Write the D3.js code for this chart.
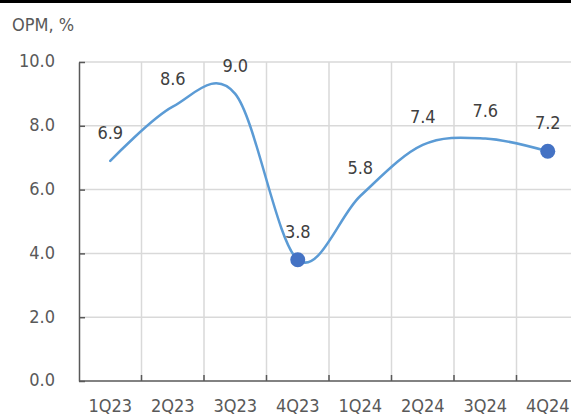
<!DOCTYPE html>
<html>
<head>
<meta charset="utf-8">
<script src="https://cdn.jsdelivr.net/npm/d3@7"></script>
<style>
  html, body { margin: 0; padding: 0; background: #fff; overflow: hidden; }
  text { font-family: "DejaVu Sans Condensed", "DejaVu Sans", sans-serif; font-stretch: condensed; }
</style>
</head>
<body>
<div id="chart"></div>
<script>
var quarters = ['1Q23', '2Q23', '3Q23', '4Q23', '1Q24', '2Q24', '3Q24', '4Q24'];
var opm = [6.9, 8.6, 9.0, 3.8, 5.8, 7.4, 7.6, 7.2];
var markedQuarters = ['4Q23', '4Q24'];
var yTicks = [0, 2, 4, 6, 8, 10];

var W = 571, H = 415;
var margin = { top: 62, left: 79 };
var plotRight = 579, plotBottom = 381;
var fontSize = '18px';

var svg = d3.select('#chart').append('svg').attr('width', W).attr('height', H);

// black rule along the top
svg.append('rect').attr('x', 0).attr('y', 0).attr('width', W).attr('height', 3).attr('fill', '#000');

var x = d3.scaleBand().domain(quarters).range([margin.left, plotRight]).padding(0);
var y = d3.scaleLinear().domain([0, 10]).range([plotBottom, margin.top]);

// gridlines
svg.append('g').selectAll('line.h').data(yTicks.slice(1)).enter().append('line')
  .attr('x1', margin.left).attr('x2', plotRight)
  .attr('y1', function (d) { return y(d); }).attr('y2', function (d) { return y(d); })
  .attr('stroke', '#d9d9d9').attr('stroke-width', 1.5);
svg.append('g').selectAll('line.v').data(quarters.slice(1)).enter().append('line')
  .attr('x1', function (d) { return x(d); }).attr('x2', function (d) { return x(d); })
  .attr('y1', margin.top).attr('y2', plotBottom)
  .attr('stroke', '#d9d9d9').attr('stroke-width', 1.5);

// y axis
var yAxis = d3.axisLeft(y).tickValues(yTicks).tickFormat(d3.format('.1f')).tickSizeInner(-6).tickSizeOuter(0).tickPadding(24);
var gy = svg.append('g').attr('transform', 'translate(' + margin.left + ',0)').call(yAxis);
gy.attr('font-family', null).attr('font-size', null);
gy.select('.domain').attr('stroke', '#595959').attr('stroke-width', 1.5);
gy.selectAll('.tick line').attr('stroke', '#595959').attr('stroke-width', 1.5);
gy.selectAll('.tick text').attr('fill', '#595959').attr('dy', '0.27em').style('font-size', fontSize);

// x axis, ticks at band boundaries
var gx = svg.append('g').attr('transform', 'translate(0,' + plotBottom + ')');
gx.append('line').attr('x1', margin.left).attr('x2', plotRight).attr('stroke', '#595959').attr('stroke-width', 1.5);
gx.selectAll('line.t').data(quarters.slice(1)).enter().append('line')
  .attr('x1', function (d) { return x(d); }).attr('x2', function (d) { return x(d); })
  .attr('y1', 0).attr('y2', -6).attr('stroke', '#595959').attr('stroke-width', 1.5);
gx.selectAll('text').data(quarters).enter().append('text')
  .attr('x', function (d) { return x(d) + x.bandwidth() / 2; }).attr('y', 31)
  .attr('text-anchor', 'middle').attr('fill', '#595959').style('font-size', fontSize)
  .text(function (d) { return d; });

// axis title
svg.append('text').attr('x', 12).attr('y', 30.5).attr('fill', '#595959').style('font-size', fontSize).text('OPM, %');

// smoothed line
var line = d3.line()
  .x(function (d, i) { return x(quarters[i]) + x.bandwidth() / 2; })
  .y(function (d) { return y(d); })
  .curve(d3.curveCatmullRom.alpha(0));
svg.append('path').datum(opm).attr('d', line).attr('fill', 'none')
  .attr('stroke', '#5b9bd5').attr('stroke-width', 2.5).attr('stroke-linecap', 'round');

// markers
svg.selectAll('circle.m').data(quarters.filter(function (q) { return markedQuarters.indexOf(q) >= 0; })).enter().append('circle')
  .attr('cx', function (q) { return x(q) + x.bandwidth() / 2; })
  .attr('cy', function (q) { return y(opm[quarters.indexOf(q)]); })
  .attr('r', 7.5).attr('fill', '#4472c4');

// data labels
svg.selectAll('text.lbl').data(opm).enter().append('text')
  .attr('x', function (d, i) { return x(quarters[i]) + x.bandwidth() / 2; })
  .attr('y', function (d) { return y(d) - 22; })
  .attr('text-anchor', 'middle').attr('fill', '#404040').style('font-size', fontSize)
  .text(function (d) { return d.toFixed(1); });
</script>
</body>
</html>
